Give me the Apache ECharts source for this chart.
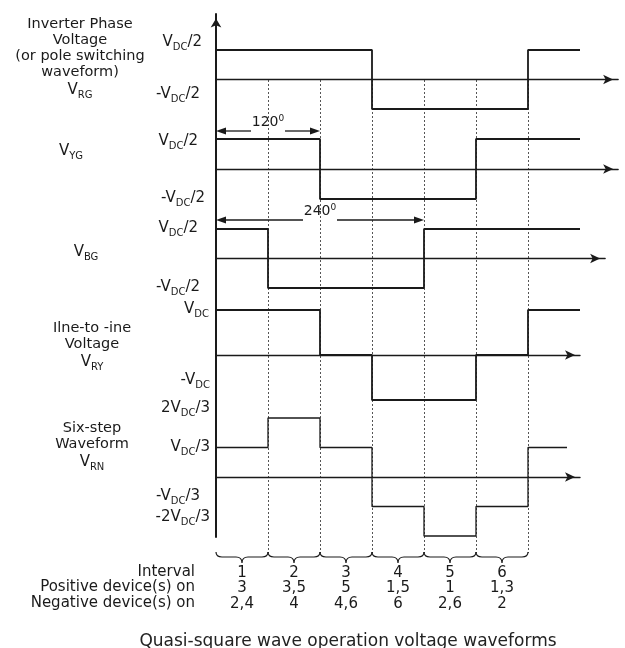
<!DOCTYPE html>
<html><head><meta charset="utf-8">
<script src="https://cdn.jsdelivr.net/npm/echarts@6/dist/echarts.min.js"></script>
<style>html,body{margin:0;padding:0;background:#fff}#c{width:625px;height:648px}</style>
</head><body><div id="c"></div>
<script>
// ---------------- data ----------------
const intervalNumbers = ['1', '2', '3', '4', '5', '6'];
const positiveDevices = ['3', '3,5', '5', '1,5', '1', '1,3'];
const negativeDevices = ['2,4', '4', '4,6', '6', '2,6', '2'];
const intervalBounds = [[0, 60], [60, 120], [120, 180], [180, 240], [240, 300], [300, 360]];
// waveforms: [angle (deg), value (x Vdc)] - value holds until next angle
const vRG = [[0, 0.5], [180, -0.5], [360, 0.5], [420, 0.5]];
const vYG = [[0, 0.5], [120, -0.5], [300, 0.5], [420, 0.5]];
const vBG = [[0, 0.5], [60, -0.5], [240, 0.5], [420, 0.5]];
const vRY = [[0, 1], [120, 0], [180, -1], [300, 0], [360, 1], [420, 1]];
const vRN = [[0, 1/3], [60, 2/3], [120, 1/3], [180, -1/3], [240, -2/3], [300, -1/3], [360, 1/3], [405, 1/3]];
const phaseShiftYG = [0, 120];
const phaseShiftBG = [0, 240];

// ---------------- layout / style ----------------
const F = '"DejaVu Sans", sans-serif';
const INK = '#1a1a1a';
const X0 = 216, PX = 364 / 420;
const panels = [
  { data: vRG, top: 50,  h: 59,  lim: 0.5, end: 464, lw: 1.8 },
  { data: vYG, top: 139, h: 60,  lim: 0.5, end: 464, lw: 1.8 },
  { data: vBG, top: 229, h: 59,  lim: 0.5, end: 449, lw: 1.8 },
  { data: vRY, top: 310, h: 90,  lim: 1,   end: 420, lw: 1.8 },
  { data: vRN, top: 418, h: 118, lim: 2/3, end: 420, lw: 1.3 }
];

const grid = [], xAxis = [], yAxis = [], series = [];
panels.forEach((p, i) => {
  grid.push({ left: X0, top: p.top, height: p.h, width: p.end * PX });
  xAxis.push({
    gridIndex: i, type: 'value', min: 0, max: p.end,
    axisLine: { show: true, onZero: true, symbol: ['none', 'arrow'], symbolSize: [7, 10], symbolOffset: [0, -5],
      lineStyle: { color: INK, width: 1.4 } },
    axisTick: { show: false }, axisLabel: { show: false }, splitLine: { show: false }
  });
  yAxis.push({ gridIndex: i, type: 'value', min: -p.lim, max: p.lim, show: false });
  series.push({
    type: 'line', xAxisIndex: i, yAxisIndex: i, data: p.data, step: 'end', symbol: 'none',
    clip: false, lineStyle: { color: INK, width: p.lw }, z: 5
  });
});
// frame grid (main vertical axis)
grid.push({ left: X0, top: 14, height: 523, width: 364 });
xAxis.push({ gridIndex: 5, type: 'value', min: 0, max: 420, show: false });
yAxis.push({ gridIndex: 5, type: 'value', min: 0, max: 1,
  axisLine: { show: true, onZero: false, symbol: ['none', 'arrow'], symbolSize: [8, 9], symbolOffset: [0, -4.5],
    lineStyle: { color: INK, width: 2 } },
  axisTick: { show: false }, axisLabel: { show: false }, splitLine: { show: false } });
// guide grid (dotted interval lines, braces, interval table)
grid.push({ left: X0, top: 80, height: 473, width: 312 });
xAxis.push({ gridIndex: 6, type: 'value', min: 0, max: 360, interval: 60, position: 'top',
  axisLine: { show: false }, axisTick: { show: false }, axisLabel: { show: false },
  splitLine: { show: true, showMinLine: false, lineStyle: { type: [2, 2], color: '#555', width: 1 } } });
xAxis.push({ gridIndex: 6, type: 'category', data: intervalNumbers, position: 'bottom',
  axisLine: { show: false }, axisTick: { show: false }, splitLine: { show: false },
  axisLabel: { interval: 0, margin: 12, fontFamily: F, fontSize: 15, lineHeight: 15.5, color: INK,
    formatter: (v, i) => intervalNumbers[i] + '\n' + positiveDevices[i] + '\n' + negativeDevices[i] } });
yAxis.push({ gridIndex: 6, type: 'value', min: 0, max: 1, show: false });

series.push({
  type: 'custom', xAxisIndex: 6, yAxisIndex: 6, data: intervalBounds, encode: { x: [0, 1] }, clip: false,
  renderItem(params, api) {
    const a = api.coord([api.value(0), 0]), b = api.coord([api.value(1), 0]);
    const x0 = a[0], x1 = b[0], y0 = a[1];
    const yt = y0 - 1, ym = y0 + 4, yp = y0 + 10, xm = (x0 + x1) / 2, r = 6;
    const d = `M${x0} ${yt} Q${x0} ${ym} ${x0 + r} ${ym} L${xm - r} ${ym} Q${xm} ${ym} ${xm} ${yp} ` +
      `Q${xm} ${ym} ${xm + r} ${ym} L${x1 - r} ${ym} Q${x1} ${ym} ${x1} ${yt}`;
    return { type: 'path', shape: { pathData: d }, style: { fill: 'none', stroke: INK, lineWidth: 1.2 } };
  }
});

function dimRender(dy) {
  return function (params, api) {
    const v0 = api.value(0), v1 = api.value(1);
    const p0 = api.coord([v0, 0]), p1 = api.coord([v1, 0]);
    const top = api.coord([v0, 0.5])[1];
    const y = top - dy, x0 = p0[0], x1 = p1[0], xm = (x0 + x1) / 2, gap = 17, ah = 10, aw = 3.5;
    const ls = { stroke: INK, lineWidth: 1.3 };
    return { type: 'group', children: [
      { type: 'line', shape: { x1: x0 + ah, y1: y, x2: xm - gap, y2: y }, style: ls },
      { type: 'line', shape: { x1: xm + gap, y1: y, x2: x1 - ah, y2: y }, style: ls },
      { type: 'polygon', shape: { points: [[x0, y], [x0 + ah, y - aw], [x0 + ah, y + aw]] }, style: { fill: INK } },
      { type: 'polygon', shape: { points: [[x1, y], [x1 - ah, y - aw], [x1 - ah, y + aw]] }, style: { fill: INK } },
      { type: 'text', x: xm, y: y - 9, style: { text: '{n|' + (v1 - v0) + '}{d|0}', fill: INK, fontFamily: F, fontSize: 14,
          align: 'center', verticalAlign: 'middle',
          rich: { n: { fontFamily: F, fontSize: 14, lineHeight: 16, fill: INK },
                  d: { fontFamily: F, fontSize: 9, lineHeight: 9, verticalAlign: 'top', fill: INK } } } }
    ] };
  };
}
series.push({ type: 'custom', xAxisIndex: 1, yAxisIndex: 1, data: [phaseShiftYG], encode: { x: [0, 1] }, clip: false, renderItem: dimRender(8) });
series.push({ type: 'custom', xAxisIndex: 2, yAxisIndex: 2, data: [phaseShiftBG], encode: { x: [0, 1] }, clip: false, renderItem: dimRender(9) });

// ---------------- text ----------------
const rich = {
  m: { fontSize: 15, fontFamily: F, lineHeight: 20, fill: INK },
  s: { fontSize: 10, fontFamily: F, lineHeight: 10, verticalAlign: 'bottom', fill: INK },
  t: { fontSize: 14.5, fontFamily: F, lineHeight: 16, fill: INK },
  r: { fontSize: 15, fontFamily: F, lineHeight: 15.5, fill: INK }
};
function txt(x, y, text, align, va) {
  return { type: 'text', x, y, silent: true,
    style: { text, rich, align, verticalAlign: va, fill: INK, fontFamily: F, fontSize: 15 } };
}
const graphic = [
  txt(80, 16, '{t|Inverter Phase}\n{t|Voltage}\n{t|(or pole switching}\n{t|waveform)}\n{m|V}{s|RG}', 'center', 'top'),
  txt(71, 151, '{m|V}{s|YG}', 'center', 'middle'),
  txt(86, 252, '{m|V}{s|BG}', 'center', 'middle'),
  txt(92, 320, '{t|Ilne-to -ine}\n{t|Voltage}\n{m|V}{s|RY}', 'center', 'top'),
  txt(92, 420, '{t|Six-step}\n{t|Waveform}\n{m|V}{s|RN}', 'center', 'top'),
  txt(202, 42, '{m|V}{s|DC}{m|/2}', 'right', 'middle'),
  txt(200, 94, '{m|-V}{s|DC}{m|/2}', 'right', 'middle'),
  txt(198, 141, '{m|V}{s|DC}{m|/2}', 'right', 'middle'),
  txt(205, 198, '{m|-V}{s|DC}{m|/2}', 'right', 'middle'),
  txt(198, 228, '{m|V}{s|DC}{m|/2}', 'right', 'middle'),
  txt(200, 287, '{m|-V}{s|DC}{m|/2}', 'right', 'middle'),
  txt(209, 309, '{m|V}{s|DC}', 'right', 'middle'),
  txt(210, 380, '{m|-V}{s|DC}', 'right', 'middle'),
  txt(210, 408, '{m|2V}{s|DC}{m|/3}', 'right', 'middle'),
  txt(210, 447, '{m|V}{s|DC}{m|/3}', 'right', 'middle'),
  txt(200, 496, '{m|-V}{s|DC}{m|/3}', 'right', 'middle'),
  txt(210, 517, '{m|-2V}{s|DC}{m|/3}', 'right', 'middle'),
  txt(195, 564, '{r|Interval}\n{r|Positive device(s) on}\n{r|Negative device(s) on}', 'right', 'top'),
  { type: 'text', x: 348, y: 642, silent: true,
    style: { text: 'Quasi-square wave operation voltage waveforms', fontFamily: F, fontSize: 17,
      fill: '#222', align: 'center', verticalAlign: 'middle' } }
];

const chart = echarts.init(document.getElementById('c'), null, { renderer: 'canvas' });
chart.setOption({ animation: false, backgroundColor: '#fff', grid, xAxis, yAxis, series, graphic });
</script></body></html>
